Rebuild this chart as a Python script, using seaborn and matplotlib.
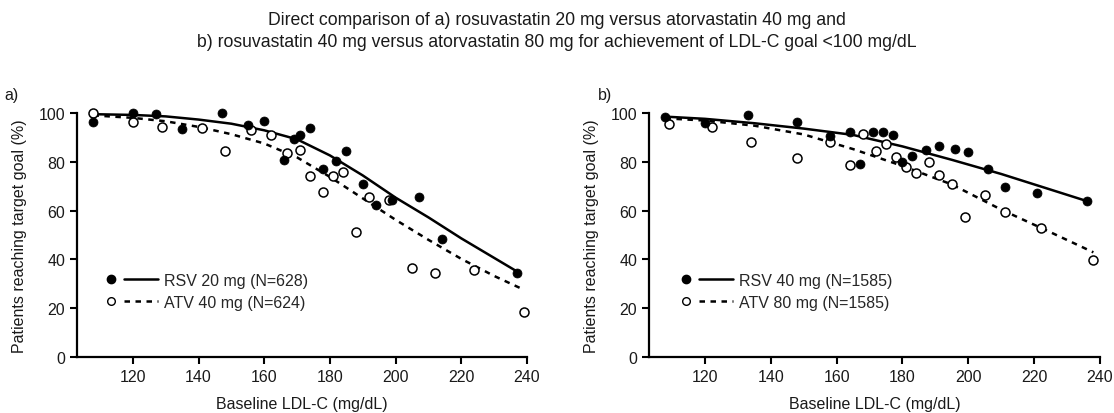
import numpy as np
import pandas as pd
import matplotlib
matplotlib.use("Agg")
import matplotlib.pyplot as plt
import seaborn as sns
from matplotlib.lines import Line2D
from matplotlib.legend_handler import HandlerTuple

# panel a) observed points
rsv20_x = [108, 120, 127, 135, 147, 155, 160, 166, 169, 171, 174, 178, 182, 185, 190, 194, 199, 207, 214, 237]
rsv20_y = [96.4, 100, 99.7, 93.6, 100, 95.1, 96.9, 80.6, 89.2, 91.0, 93.7, 77.0, 80.5, 84.4, 70.9, 62.3, 64.5, 65.7, 48.4, 34.4]
atv40_x = [108, 120, 129, 141, 148, 156, 162, 167, 171, 174, 178, 181, 184, 188, 192, 198, 205, 212, 224, 239]
atv40_y = [100, 96.3, 94.1, 94.0, 84.4, 92.9, 90.8, 83.5, 84.8, 74.2, 67.8, 74.2, 75.9, 51.4, 65.4, 64.5, 36.6, 34.4, 35.6, 18.6]

# panel a) fitted curves
fit_a_x = [108, 120, 130, 140, 150, 160, 170, 180, 190, 200, 210, 220, 230, 237]
fit_rsv20 = [99.5, 99.2, 98.6, 97.3, 95.6, 92.9, 89.2, 82.6, 74.4, 65.3, 57.2, 48.6, 40.6, 35.0]
fit_a2_x = [108, 120, 130, 140, 150, 160, 170, 180, 190, 200, 210, 220, 230, 238]
fit_atv40 = [99.0, 98.0, 96.6, 94.3, 91.3, 87.5, 81.8, 73.8, 65.0, 56.2, 48.0, 40.2, 33.2, 28.2]

# panel b) observed points
rsv40_x = [108, 120, 133, 148, 158, 164, 167, 171, 174, 177, 180, 183, 187, 191, 196, 200, 206, 211, 221, 236]
rsv40_y = [98.2, 95.9, 99.3, 96.1, 90.4, 92.2, 79.1, 92.4, 92.2, 90.8, 79.8, 82.2, 84.8, 86.6, 85.1, 83.9, 76.9, 69.5, 67.2, 63.8]
atv80_x = [109, 122, 134, 148, 158, 164, 168, 172, 175, 178, 181, 184, 188, 191, 195, 199, 205, 211, 222, 238]
atv80_y = [95.5, 94.4, 88.0, 81.4, 88.0, 78.8, 91.4, 84.3, 87.4, 81.8, 77.7, 75.4, 79.9, 74.7, 70.9, 57.5, 66.3, 59.4, 52.7, 39.8]

# panel b) fitted curves
fit_b_x = [108, 120, 135, 150, 165, 180, 195, 210, 225, 236]
fit_rsv40 = [98.5, 97.6, 95.8, 93.6, 91.0, 86.3, 80.8, 75.0, 68.6, 63.9]
fit_b2_x = [108, 120, 135, 150, 165, 180, 195, 210, 225, 238]
fit_atv80 = [97.8, 96.9, 94.8, 91.2, 85.2, 78.3, 70.7, 60.4, 51.1, 42.9]

x_ticks = [120, 140, 160, 180, 200, 220, 240]
y_ticks = [0, 20, 40, 60, 80, 100]

sns.set_style("ticks")
plt.rcParams['font.family'] = ['Liberation Sans', 'DejaVu Sans']

FS = 11.5
DASH = (0, (2.2, 2.2))


def draw_panel(ax, px1, py1, px2, py2, fx1, fy1, fx2, fy2, labels, leg_x):
    d1 = pd.DataFrame({'x': px1, 'y': py1})
    d2 = pd.DataFrame({'x': px2, 'y': py2})
    f1 = pd.DataFrame({'x': fx1, 'y': fy1})
    f2 = pd.DataFrame({'x': fx2, 'y': fy2})

    sns.lineplot(data=f1, x='x', y='y', ax=ax, color='black', lw=1.8, sort=True)
    sns.lineplot(data=f2, x='x', y='y', ax=ax, color='black', lw=1.8, linestyle=DASH, sort=True)
    sns.scatterplot(data=d2, x='x', y='y', ax=ax, s=42, facecolor='white',
                    edgecolor='black', linewidth=1.1, clip_on=False, zorder=3)
    sns.scatterplot(data=d1, x='x', y='y', ax=ax, s=42, color='black',
                    edgecolor='black', linewidth=0.5, clip_on=False, zorder=4)

    ax.set_xlim(103, 240)
    ax.set_ylim(0, 100)
    ax.set_xticks(x_ticks)
    ax.set_yticks(y_ticks)
    ax.tick_params(width=1.5, length=5, labelsize=FS, color='black', labelcolor='#1a1a1a')
    for side in ['left', 'bottom']:
        ax.spines[side].set_linewidth(1.6)
        ax.spines[side].set_color('black')
    sns.despine(ax=ax)
    ax.set_xlabel('Baseline LDL-C (mg/dL)', fontsize=FS, labelpad=9, color='#1a1a1a')
    ax.set_ylabel('Patients reaching target goal (%)', fontsize=FS, labelpad=8, color='#1a1a1a')

    h1 = (Line2D([], [], marker='o', ls='none', mfc='black', mec='black', ms=6),
          Line2D([], [], color='black', lw=1.8))
    h2 = (Line2D([], [], marker='o', ls='none', mfc='white', mec='black', mew=1.0, ms=5.5),
          Line2D([], [], color='black', lw=1.8, linestyle=DASH))
    ax.legend([h1, h2], labels, handler_map={tuple: HandlerTuple(ndivide=None, pad=-0.25)},
              handlelength=4.0, handletextpad=0.38, frameon=False, fontsize=FS,
              loc='upper left', bbox_to_anchor=(leg_x, 0.405), labelspacing=0.47)


fig = plt.figure(figsize=(11.14, 4.14), dpi=100)
ax1 = fig.add_axes([0.0691, 0.1353, 0.404, 0.5894])
ax2 = fig.add_axes([0.5826, 0.1353, 0.4048, 0.5894])

draw_panel(ax1, rsv20_x, rsv20_y, atv40_x, atv40_y, fit_a_x, fit_rsv20, fit_a2_x, fit_atv40,
           ['RSV 20 mg (N=628)', 'ATV 40 mg (N=624)'], 0.006)
draw_panel(ax2, rsv40_x, rsv40_y, atv80_x, atv80_y, fit_b_x, fit_rsv40, fit_b2_x, fit_atv80,
           ['RSV 40 mg (N=1585)', 'ATV 80 mg (N=1585)'], 0.0125)

fig.text(0.5, 0.971, 'Direct comparison of a) rosuvastatin 20 mg versus atorvastatin 40 mg and\n'
         'b) rosuvastatin 40 mg versus atorvastatin 80 mg for achievement of LDL-C goal <100 mg/dL',
         ha='center', va='top', fontsize=12.7, linespacing=1.42, color='#1a1a1a')
fig.text(0.004, 0.758, 'a)', fontsize=FS, color='#1a1a1a')
fig.text(0.537, 0.758, 'b)', fontsize=FS, color='#1a1a1a')

fig.savefig('out.png', dpi=100)
